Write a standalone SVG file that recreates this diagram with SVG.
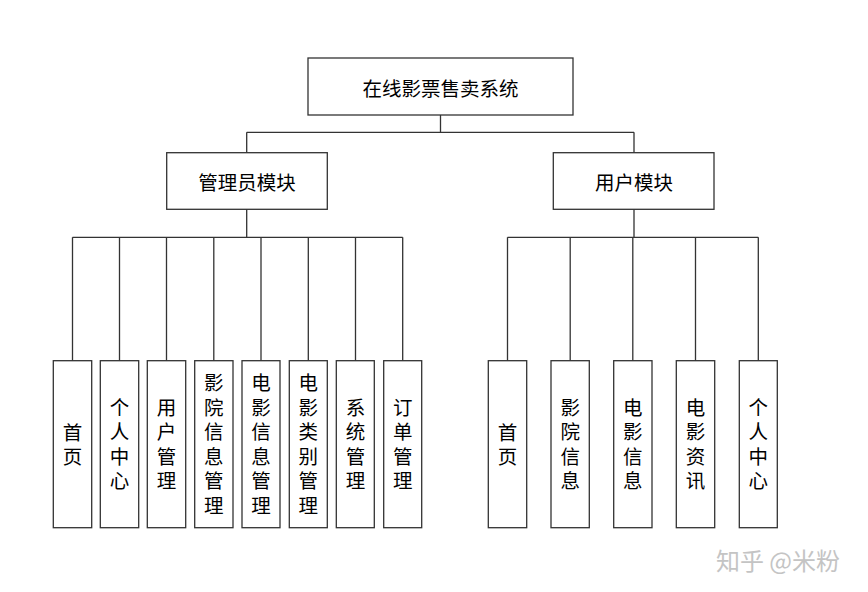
<svg xmlns="http://www.w3.org/2000/svg" width="868" height="592" viewBox="0 0 868 592">
<style>
.box{fill:#fff;stroke:#333;stroke-width:1.3}
.ln{fill:none;stroke:#333;stroke-width:1.3}
.t{font-family:"Noto Sans CJK SC","Liberation Sans",sans-serif;font-size:19.5px;fill:#000;text-anchor:middle;dominant-baseline:central}
.v{font-family:"Noto Sans CJK SC","Liberation Sans",sans-serif;font-size:19.5px;fill:#000;text-anchor:middle;writing-mode:vertical-rl;letter-spacing:5px}
.wm{font-family:"Noto Sans CJK SC","Liberation Sans",sans-serif;font-size:24px;fill:#c4c4c4;text-anchor:middle;dominant-baseline:central}
</style>
<rect width="868" height="592" fill="#fff"/>
<g id="connectors">
<path class="ln" d="M440.5 115V132.3M246.7 132.3H634M246.7 132.3V152.7M634 132.3V152.7"/>
<path class="ln" d="M246.7 209.3V237.3M72.5 237.3H402.7M72.5 237.3V360.7M119.5 237.3V360.7M166.5 237.3V360.7M213.8 237.3V360.7M261 237.3V360.7M308.3 237.3V360.7M355.5 237.3V360.7M402.7 237.3V360.7"/>
<path class="ln" d="M634 209.3V237.3M507.5 237.3H758.3M507.5 237.3V360.7M570.2 237.3V360.7M632.8 237.3V360.7M695.5 237.3V360.7M758.3 237.3V360.7"/>
</g>
<g id="root"><rect class="box" x="308" y="58" width="265" height="57"/><text class="t" x="440.5" y="87">在线影票售卖系统</text></g>
<g id="admin"><rect class="box" x="166.7" y="152.7" width="160.6" height="56.6"/><text class="t" x="247" y="181">管理员模块</text></g>
<g id="user"><rect class="box" x="553.3" y="152.7" width="160.7" height="56.6"/><text class="t" x="634" y="181">用户模块</text></g>
<g id="a1"><rect class="box" x="53.3" y="360.7" width="38.4" height="167"/><text class="v" x="72.5" y="447">首页</text></g>
<g id="a2"><rect class="box" x="100.3" y="360.7" width="38.4" height="167"/><text class="v" x="119.5" y="446.5">个人中心</text></g>
<g id="a3"><rect class="box" x="147.3" y="360.7" width="38.4" height="167"/><text class="v" x="166.5" y="446.5">用户管理</text></g>
<g id="a4"><rect class="box" x="194.7" y="360.7" width="38.3" height="167"/><text class="v" x="213.8" y="446.5">影院信息管理</text></g>
<g id="a5"><rect class="box" x="242" y="360.7" width="38" height="167"/><text class="v" x="261" y="446.5">电影信息管理</text></g>
<g id="a6"><rect class="box" x="289.3" y="360.7" width="38" height="167"/><text class="v" x="308.3" y="446.5">电影类别管理</text></g>
<g id="a7"><rect class="box" x="336.3" y="360.7" width="38" height="167"/><text class="v" x="355.5" y="446.5">系统管理</text></g>
<g id="a8"><rect class="box" x="383.7" y="360.7" width="38" height="167"/><text class="v" x="402.7" y="446.5">订单管理</text></g>
<g id="u1"><rect class="box" x="488.3" y="360.7" width="38.4" height="167"/><text class="v" x="507.5" y="447">首页</text></g>
<g id="u2"><rect class="box" x="551" y="360.7" width="38.3" height="167"/><text class="v" x="570.2" y="446.5">影院信息</text></g>
<g id="u3"><rect class="box" x="613.7" y="360.7" width="38.3" height="167"/><text class="v" x="632.8" y="446.5">电影信息</text></g>
<g id="u4"><rect class="box" x="676.3" y="360.7" width="38.4" height="167"/><text class="v" x="695.5" y="446.5">电影资讯</text></g>
<g id="u5"><rect class="box" x="739.3" y="360.7" width="38" height="167"/><text class="v" x="758.3" y="446.5">个人中心</text></g>
<text class="wm" x="778" y="559">知乎 @米粉</text>
</svg>
